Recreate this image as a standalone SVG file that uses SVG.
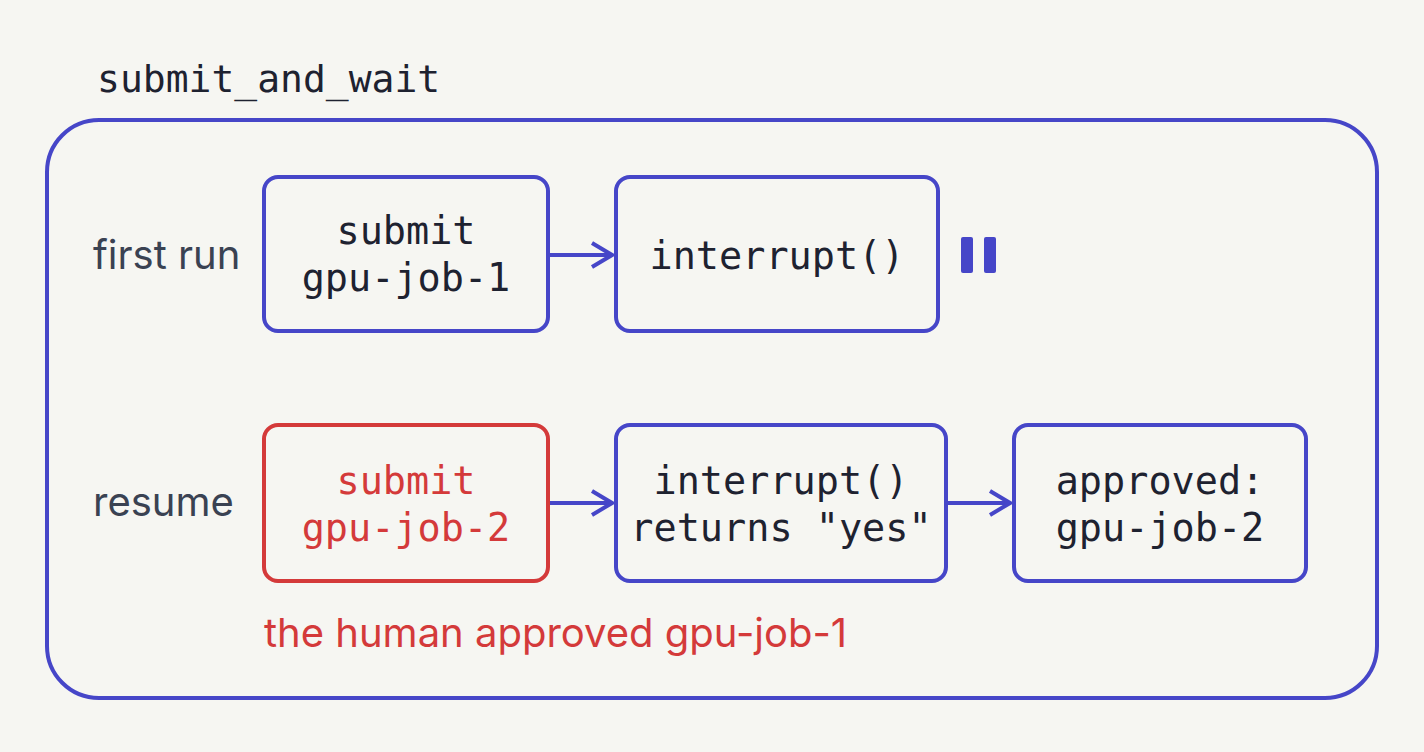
<svg xmlns="http://www.w3.org/2000/svg" width="1424" height="752" viewBox="0 0 1424 752">
<style>
.box{fill:none;stroke:#4646c8;stroke-width:4}
.red{fill:none;stroke:#d43a3a;stroke-width:4}
.m{font-family:"DejaVu Sans Mono","Liberation Mono",monospace;font-size:38.5px;fill:#1e2230;text-anchor:middle}
.mr{fill:#d43a3a}
.s{font-family:Inter,"Liberation Sans",sans-serif;font-size:40px;fill:#3a4252}
.conn line{stroke:#4646c8;stroke-width:4}
</style>
<defs>
<marker id="b" viewBox="0 0 24 28" refX="22" refY="14" markerWidth="24" markerHeight="28" markerUnits="userSpaceOnUse" orient="auto"><path d="M2,2 L22,14 L2,26" fill="none" stroke="#4646c8" stroke-width="4"/></marker></defs>
<rect width="1424" height="752" fill="#f6f6f2"/>
<text x="97" y="92" class="m" style="text-anchor:start;font-size:38px">submit_and_wait</text>
<g id="outer"><rect x="47" y="120" width="1330" height="578" rx="52" class="box"/></g>
<text x="93" y="269" class="s">first run</text>
<text x="93" y="516" class="s">resume</text>
<g id="n1"><rect x="264" y="177" width="284" height="154" rx="14" class="box"/><text x="406" y="244" class="m">submit</text><text x="406" y="291" class="m">gpu-job-1</text></g>
<g id="n2"><rect x="616" y="177" width="322" height="154" rx="14" class="box"/><text x="777" y="269" class="m">interrupt()</text></g>
<g id="pause"><rect x="961" y="237" width="12" height="36" rx="2" fill="#4646c8"/><rect x="984" y="237" width="12" height="36" rx="2" fill="#4646c8"/></g>
<g id="n3"><rect x="264" y="425" width="284" height="156" rx="14" class="red"/><text x="406" y="494" class="m mr">submit</text><text x="406" y="541" class="m mr">gpu-job-2</text></g>
<g id="n4"><rect x="616" y="425" width="330" height="156" rx="14" class="box"/><text x="781" y="494" class="m">interrupt()</text><text x="781" y="541" class="m">returns "yes"</text></g>
<g id="n5"><rect x="1014" y="425" width="292" height="156" rx="14" class="box"/><text x="1160" y="494" class="m">approved:</text><text x="1160" y="541" class="m">gpu-job-2</text></g>
<text x="264" y="647" class="s" style="fill:#d43a3a">the human approved gpu-job-1</text>
<g class="conn">
<line x1="550" y1="255" x2="612" y2="255" marker-end="url(#b)"/>
<line x1="550" y1="503" x2="612" y2="503" marker-end="url(#b)"/>
<line x1="948" y1="503" x2="1010" y2="503" marker-end="url(#b)"/>
</g>
</svg>
